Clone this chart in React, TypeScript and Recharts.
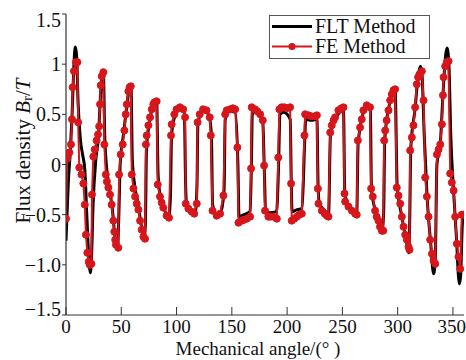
import { Line, LineChart, XAxis, YAxis } from "recharts";

document.body.style.margin = "0";

const FONT = "'Liberation Serif', 'Times New Roman', serif";
const RED = "#d7161c";
const AXIS = "#333";

const xTicks = [0, 50, 100, 150, 200, 250, 300, 350];
const yTicks = [-1.5, -1, -0.5, 0, 0.5, 1, 1.5];
const yTickLabels = ["−1.5", "−1.0", "−0.5", "0", "0.5", "1", "1.5"];

// FE Method samples (angle in degrees, flux density in T)
const feAngle = [
  0, 1.2, 3, 4.5, 5.4, 6, 7.2, 9, 10.3, 11, 12, 14, 15.7, 17, 18, 19.3, 20.5, 21.5, 23,
  23.5, 24.7, 26, 27.7, 29, 30, 30.8, 31.4, 32.3, 33.8, 34.7, 36, 37, 38.3, 39.8, 41.3,
  42.8, 43.7, 44.5, 45.2, 47.3, 48, 49.5, 51.3, 52.8, 54, 55, 56.4, 57.5, 58.6, 59.5, 61,
  62.5, 64, 65.5, 67, 68.5, 70, 71.5, 72.3, 73, 74.5, 76, 77.6, 79, 80, 82, 83, 85, 86.5,
  88, 91, 93.2, 95, 95.6, 98, 100, 103, 106, 107.7, 108.3, 110.7, 113.7, 116, 118.3, 119,
  121, 124, 127, 130, 131, 132.5, 136.3, 139.4, 142.4, 144, 145.4, 148.4, 151, 153, 155,
  156, 159, 161, 163.5, 166.5, 167.4, 168, 171, 173, 175.6, 178, 179.2, 180, 183, 185,
  187.6, 190.7, 192, 193, 195, 197.5, 199.7, 202.7, 203.6, 204.2, 206.5, 208.8, 211,
  213.3, 215.7, 216.3, 219.3, 222, 225, 226.9, 227.8, 228.4, 231.4, 234, 236, 237.4, 239,
  240.4, 242, 243.4, 246.4, 249, 251, 251.9, 252.5, 255.5, 258.6, 261.5, 263, 264, 266,
  267.5, 269, 272, 275, 276, 277.5, 279.6, 281, 282.6, 284, 285.7, 287, 287.8, 288.7, 290,
  291.7, 293.2, 294.7, 296.2, 297.7, 299.2, 300.7, 302.3, 303.8, 305.3, 306.8, 308.3,
  309.8, 310.7, 311.3, 312.8, 314.3, 315.8, 317.3, 318.5, 319.7, 321.9, 323.4, 324.9,
  326.4, 327.9, 329.4, 331, 332.5, 334, 335.5, 337, 338.5, 340, 341, 341.5, 343, 344.5,
  346, 347.5, 349, 350.6, 352, 353.5, 355, 356.6, 358, 359.5,
];
const feFlux = [
  -0.54, 0.06, 0.12, 0.2, 0.45, 0.77, 0.93, 1.02, 1.02, 0.42, -0.03, -0.1, -0.19, -0.4,
  -0.7, -0.88, -0.97, -1.0, -0.99, -0.3, 0.08, 0.15, 0.24, 0.3, 0.38, 0.6, 0.79, 0.88,
  0.92, 0.2, -0.1, -0.17, -0.23, -0.3, -0.4, -0.56, -0.67, -0.75, -0.8, -0.83, -0.1, 0.1,
  0.2, 0.34, 0.5, 0.6, 0.73, 0.77, 0.78, -0.1, -0.24, -0.32, -0.39, -0.45, -0.56, -0.65,
  -0.72, -0.74, 0.2, 0.29, 0.39, 0.47, 0.55, 0.6, 0.62, 0.63, -0.2, -0.32, -0.38, -0.43,
  -0.51, -0.53, 0.29, 0.4, 0.5, 0.55, 0.57, 0.55, 0.47, -0.39, -0.44, -0.47, -0.49, -0.39,
  0.42, 0.5, 0.55, 0.54, 0.47, 0.29, -0.46, -0.51, -0.49, -0.31, 0.5, 0.54, 0.55, 0.56,
  0.55, 0.17, -0.58, -0.56, -0.55, -0.54, -0.52, -0.04, 0.57, 0.55, 0.53, 0.5, 0.44, -0.01,
  -0.46, -0.52, -0.52, -0.52, -0.54, 0.07, 0.55, 0.57, 0.57, 0.56, 0.57, -0.19, -0.56,
  -0.54, -0.52, -0.5, -0.49, 0.29, 0.5, 0.49, 0.48, 0.48, 0.49, -0.24, -0.39, -0.46, -0.49,
  -0.51, -0.52, 0.32, 0.39, 0.44, 0.47, 0.54, 0.56, 0.57, -0.29, -0.37, -0.42, -0.46,
  -0.49, -0.5, 0.24, 0.37, 0.45, 0.54, 0.59, 0.57, -0.24, -0.32, -0.46, -0.52, -0.56,
  -0.62, -0.66, -0.66, 0.24, 0.34, 0.44, 0.54, 0.64, 0.7, 0.74, 0.75, -0.23, -0.31, -0.39,
  -0.52, -0.62, -0.7, -0.75, -0.82, -0.85, 0.14, 0.27, 0.39, 0.57, 0.8, 0.87, 0.9, 0.93,
  0.64, -0.13, -0.32, -0.52, -0.75, -0.89, -0.96, -0.99, 0.1, 0.15, 0.2, 0.4, 0.69, 0.87,
  0.98, 1.02, 1.03, -0.09, -0.18, -0.26, -0.52, -0.79, -0.92, -1.04, -0.5, -0.5,
];

// FLT Method samples
const fltAngle = [
  0, 2, 4, 5.5, 7, 8.3, 9.5, 11, 13, 15, 17, 19, 21, 22, 23, 24.5, 27, 29.5, 31, 32.5,
  33.8, 35, 36.5, 39, 42, 44.5, 46.5, 47.8, 49, 52, 55, 57.5, 58.8, 60, 62, 65, 68, 70.5,
  71.8, 72.8, 76, 79, 82, 83.3, 85, 89, 93, 94.5, 95.5, 99, 103, 107, 108.2, 109, 113, 117,
  118.5, 119.3, 124, 129, 131.5, 132.6, 136, 140, 143, 144, 148, 153, 155.5, 156.5, 161,
  166.5, 167.7, 168.5, 172, 178, 179.5, 180.5, 184, 190.5, 192.3, 193.5, 197, 202.8, 203.8,
  204.5, 209, 213.5, 215.8, 216.8, 222, 227, 228, 229, 234, 237.5, 239.2, 243.5, 251,
  252.2, 256, 263, 264.2, 269, 272, 275.3, 276.3, 281, 285.5, 287.3, 288.3, 293, 297.7,
  299.5, 303.8, 308.5, 310, 311, 311.8, 315.8, 318.5, 320.5, 322, 324, 326.5, 330, 332.5,
  334, 335.5, 338.5, 341, 343.5, 344.8, 346.5, 348, 350.5, 353, 355.8, 357, 358.5, 360,
];
const fltFlux = [
  -0.76, -0.2, 0.15, 0.5, 0.95, 1.17, 1.1, 0.6, 0.25, 0.1, -0.05, -0.55, -1.0, -1.08,
  -0.95, -0.4, 0.05, 0.3, 0.65, 0.88, 0.92, 0.3, 0.0, -0.22, -0.45, -0.75, -0.85, -0.5,
  0.0, 0.3, 0.58, 0.77, 0.77, 0.05, -0.2, -0.38, -0.6, -0.74, -0.6, 0.15, 0.45, 0.6, 0.63,
  -0.1, -0.3, -0.45, -0.53, -0.3, 0.3, 0.5, 0.56, 0.52, -0.2, -0.4, -0.47, -0.48, -0.2,
  0.4, 0.54, 0.5, 0.3, -0.4, -0.5, -0.47, -0.25, 0.45, 0.53, 0.52, 0.0, -0.52, -0.5,
  -0.47, 0.0, 0.5, 0.53, 0.42, -0.1, -0.45, -0.48, -0.47, 0.0, 0.5, 0.52, 0.45, -0.2,
  -0.47, -0.45, -0.44, 0.2, 0.45, 0.44, 0.45, -0.2, -0.38, -0.46, -0.5, 0.3, 0.45, 0.54,
  -0.3, -0.42, -0.49, 0.2, 0.52, 0.58, 0.55, -0.25, -0.5, -0.66, -0.5, 0.25, 0.62, 0.77,
  -0.2, -0.52, -0.8, -0.88, -0.5, 0.15, 0.56, 0.88, 0.98, 0.9, 0.3, -0.3, -0.8, -1.09,
  -0.95, 0.0, 0.2, 0.7, 1.1, 1.16, 0.95, 0.3, -0.25, -0.7, -1.19, -1.1, -0.6, -0.5,
];

const feData = feAngle.map((angle, i) => ({ angle, flux: feFlux[i] }));
const fltData = fltAngle.map((angle, i) => ({ angle, flux: fltFlux[i] }));

function YTick({ x, y, payload }: { x?: number; y?: number; payload?: { value: number } }) {
  const v = payload?.value ?? 0;
  const idx = yTicks.indexOf(v);
  // edge labels sit slightly inside the frame in the original
  const shift = v === 1.5 ? 6 : v === -1.5 ? -6 : 0;
  return (
    <text
      x={(x ?? 0) - 1}
      y={(y ?? 0) + shift}
      dy="0.35em"
      textAnchor="end"
      fontFamily={FONT}
      fontSize={20}
      fill="#111"
    >
      {yTickLabels[idx]}
    </text>
  );
}

// axis titles and legend, laid over the chart
function Overlay() {
  return (
    <svg
      width={466}
      height={360}
      style={{ position: "absolute", left: 0, top: 0, pointerEvents: "none" }}
    >
      <text
        x={23}
        y={151}
        transform="rotate(-90, 23, 151)"
        textAnchor="middle"
        dominantBaseline="central"
        fontFamily={FONT}
        fontSize={21}
        fill="#111"
      >
        Flux density <tspan fontStyle="italic">B</tspan>
        <tspan fontSize={15} dy={4}>r</tspan>
        <tspan dy={-4}>/</tspan>
        <tspan fontStyle="italic">T</tspan>
      </text>
      <text x={258} y={355} textAnchor="middle" fontFamily={FONT} fontSize={19} fill="#111">
        Mechanical angle/(° )
      </text>
      <g transform="translate(269, 15)">
        <rect x={0.5} y={0.5} width={160} height={43} fill="#fff" stroke="#555" strokeWidth={1} />
        <line x1={3} x2={43} y1={11.5} y2={11.5} stroke="#000" strokeWidth={3} />
        <text x={46} y={18} fontFamily={FONT} fontSize={20} fill="#111">
          FLT Method
        </text>
        <line x1={3} x2={43} y1={31.5} y2={31.5} stroke={RED} strokeWidth={2} />
        <circle cx={23} cy={31.5} r={3.5} fill={RED} />
        <text x={46} y={38} fontFamily={FONT} fontSize={20} fill="#111">
          FE Method
        </text>
      </g>
    </svg>
  );
}

export default function App() {
  return (
    <div style={{ width: 466, height: 360, background: "#fff", position: "relative" }}>
      <LineChart width={466} height={360} margin={{ top: 14, right: 2, bottom: 0, left: 0 }}>
        <XAxis
          xAxisId="b"
          type="number"
          dataKey="angle"
          domain={[0, 360]}
          ticks={xTicks}
          allowDataOverflow
          height={45}
          tickSize={-8}
          tickMargin={13}
          tick={{ fontSize: 19, fill: "#111", fontFamily: FONT }}
          tickLine={{ stroke: AXIS }}
          axisLine={{ stroke: AXIS, strokeWidth: 1.2 }}
        />
        <XAxis
          xAxisId="t"
          orientation="top"
          type="number"
          dataKey="angle"
          domain={[0, 360]}
          height={0}
          tick={false}
          tickLine={false}
          axisLine={{ stroke: AXIS, strokeWidth: 1.2 }}
        />
        <YAxis
          yAxisId="l"
          type="number"
          domain={[-1.5, 1.5]}
          ticks={yTicks}
          allowDataOverflow
          width={66}
          tickSize={4}
          tickMargin={0}
          tick={<YTick />}
          tickLine={{ stroke: AXIS }}
          axisLine={{ stroke: AXIS, strokeWidth: 1.2 }}
        />
        <YAxis
          yAxisId="r"
          orientation="right"
          type="number"
          domain={[-1.5, 1.5]}
          width={0}
          tick={false}
          tickLine={false}
          axisLine={{ stroke: AXIS, strokeWidth: 1.2 }}
        />
        <Line
          xAxisId="b"
          yAxisId="l"
          data={fltData}
          dataKey="flux"
          name="FLT Method"
          type="monotone"
          stroke="#000"
          strokeWidth={3}
          dot={false}
          isAnimationActive={false}
        />
        <Line
          xAxisId="b"
          yAxisId="l"
          data={feData}
          dataKey="flux"
          name="FE Method"
          type="linear"
          stroke={RED}
          strokeWidth={2}
          dot={{ r: 3.5, fill: RED, stroke: RED, strokeWidth: 1 }}
          isAnimationActive={false}
        />
      </LineChart>
      <Overlay />
    </div>
  );
}
